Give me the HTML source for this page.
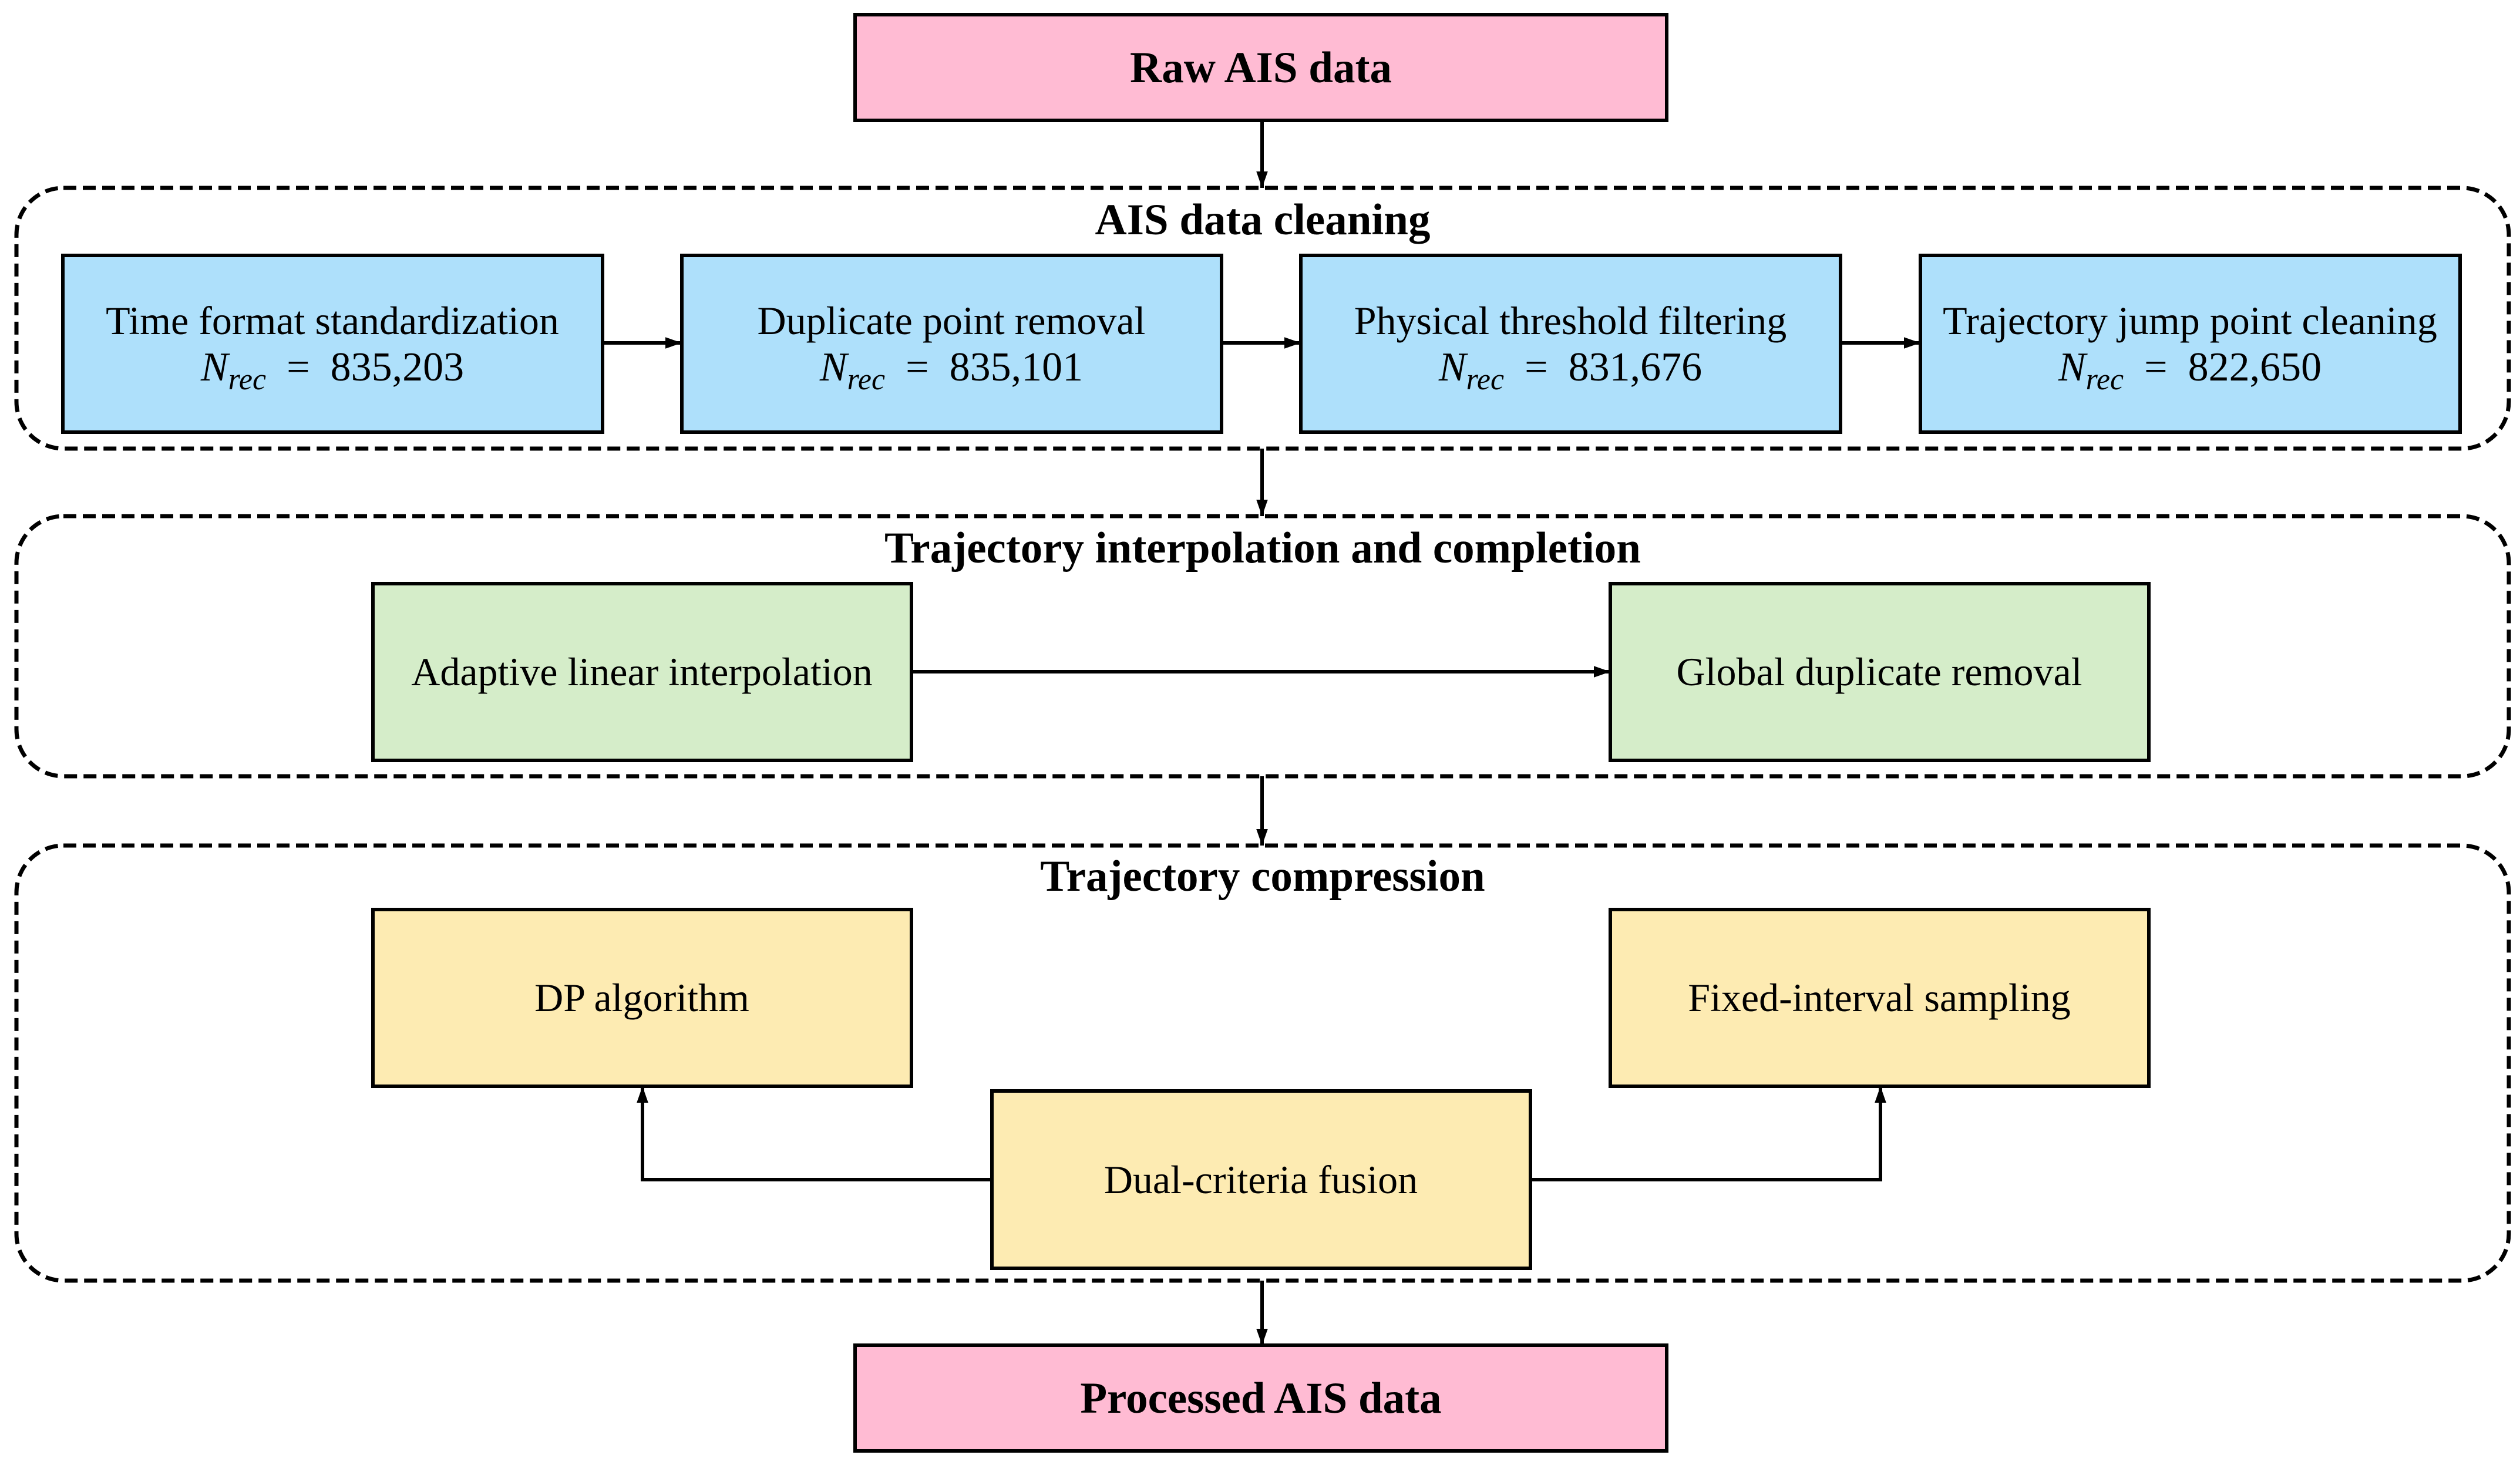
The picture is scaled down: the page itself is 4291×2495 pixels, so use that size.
<!DOCTYPE html>
<html><head><meta charset="utf-8"><style>
html,body{margin:0;padding:0;background:#fff}
svg{display:block}
text{font-family:"Liberation Serif",serif;fill:#000}
.b{font-weight:bold;font-size:75px}
.n{font-size:68px}
.m{font-size:70px}
</style></head><body>
<svg width="4291" height="2495" viewBox="0 0 4291 2495" xmlns="http://www.w3.org/2000/svg">
<defs>
<marker id="A" viewBox="0 0 10 10" refX="10" refY="5" markerWidth="28" markerHeight="28" markerUnits="userSpaceOnUse" orient="auto"><path d="M0,1.5 L10,5 L0,8.5 z" fill="#000"/></marker>
</defs>
<g fill="none" stroke="#000" stroke-width="7" stroke-dasharray="22 11">
<rect x="28" y="320" width="4244" height="444" rx="80"/>
<rect x="28" y="879" width="4244" height="443" rx="80"/>
<rect x="28" y="1440" width="4244" height="741" rx="80"/>
</g>
<g stroke="#000" stroke-width="6">
<rect x="1456" y="25" width="1382" height="180" fill="#ffbbd3"/>
<rect x="1456" y="2291" width="1382" height="180" fill="#ffbbd3"/>
<rect x="107" y="435" width="919" height="301" fill="#aee0fb"/>
<rect x="1161" y="435" width="919" height="301" fill="#aee0fb"/>
<rect x="2215" y="435" width="919" height="301" fill="#aee0fb"/>
<rect x="3270" y="435" width="919" height="301" fill="#aee0fb"/>
<rect x="635" y="994" width="917" height="301" fill="#d5edc9"/>
<rect x="2742" y="994" width="917" height="301" fill="#d5edc9"/>
<rect x="635" y="1549" width="917" height="301" fill="#fdebb2"/>
<rect x="2742" y="1549" width="917" height="301" fill="#fdebb2"/>
<rect x="1689" y="1858" width="917" height="302" fill="#fdebb2"/>
</g>
<g stroke="#000" stroke-width="6" fill="none" marker-end="url(#A)">
<line x1="2149" y1="205" x2="2149" y2="320"/>
<line x1="2149" y1="764" x2="2149" y2="879"/>
<line x1="2149" y1="1322" x2="2149" y2="1440"/>
<line x1="2149" y1="2181" x2="2149" y2="2291"/>
<line x1="1026" y1="584" x2="1161" y2="584"/>
<line x1="2080" y1="584" x2="2215" y2="584"/>
<line x1="3134" y1="584" x2="3270" y2="584"/>
<line x1="1552" y1="1144" x2="2742" y2="1144"/>
<polyline points="1689,2009 1094,2009 1094,1850"/>
<polyline points="2606,2009 3202,2009 3202,1850"/>
</g>
<g text-anchor="middle">
<text class="b" x="2147" y="140">Raw AIS data</text>
<text class="b" x="2147" y="2406">Processed AIS data</text>
<text class="b" x="2150" y="399">AIS data cleaning</text>
<text class="b" x="2150" y="958">Trajectory interpolation and completion</text>
<text class="b" x="2150" y="1517">Trajectory compression</text>
<text class="n" x="566" y="569">Time format standardization</text>
<text class="n" x="1620" y="569">Duplicate point removal</text>
<text class="n" x="2674" y="569">Physical threshold filtering</text>
<text class="n" x="3729" y="569">Trajectory jump point cleaning</text>
<text class="m" x="566" y="648"><tspan font-style="italic">N</tspan><tspan font-style="italic" font-size="52" dy="15">rec</tspan><tspan dy="-15"> &#160;= &#160;835,203</tspan></text>
<text class="m" x="1620" y="648"><tspan font-style="italic">N</tspan><tspan font-style="italic" font-size="52" dy="15">rec</tspan><tspan dy="-15"> &#160;= &#160;835,101</tspan></text>
<text class="m" x="2674" y="648"><tspan font-style="italic">N</tspan><tspan font-style="italic" font-size="52" dy="15">rec</tspan><tspan dy="-15"> &#160;= &#160;831,676</tspan></text>
<text class="m" x="3729" y="648"><tspan font-style="italic">N</tspan><tspan font-style="italic" font-size="52" dy="15">rec</tspan><tspan dy="-15"> &#160;= &#160;822,650</tspan></text>
<text class="n" x="1093" y="1167">Adaptive linear interpolation</text>
<text class="n" x="3200" y="1167">Global duplicate removal</text>
<text class="n" x="1093" y="1722">DP algorithm</text>
<text class="n" x="3200" y="1722">Fixed-interval sampling</text>
<text class="n" x="2147" y="2032">Dual-criteria fusion</text>
</g>
</svg>
</body></html>
